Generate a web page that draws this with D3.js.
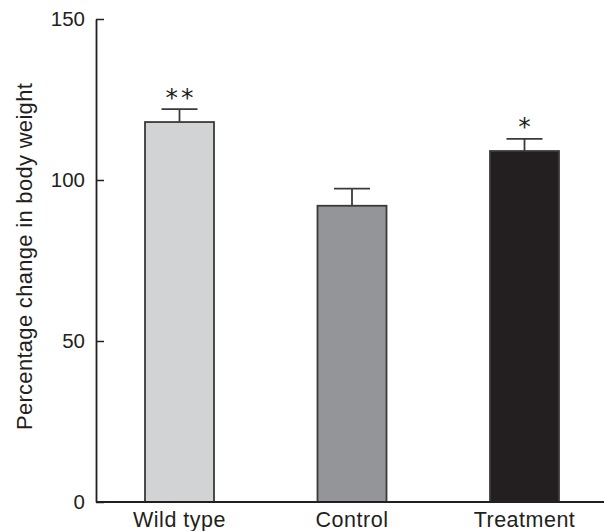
<!DOCTYPE html>
<html>
<head>
<meta charset="utf-8">
<script src="https://cdn.jsdelivr.net/npm/d3@7"></script>
<style>
  html, body { margin: 0; padding: 0; background: #fff; }
  svg { display: block; }
  text { font-family: "Liberation Sans", Arial, Helvetica, sans-serif; fill: #231f20; }
</style>
</head>
<body>
<svg id="chart" width="604" height="531"></svg>
<script>
const categories = ["Wild type", "Control", "Treatment"];
const means = [118, 92, 109];
const errors = [4, 5.3, 3.8];
const significance = ["**", "", "*"];
const yTicks = [0, 50, 100, 150];
const yLabel = "Percentage change in body weight";
const fills = ["#d1d3d4", "#939598", "#231f20"];

const W = 604, H = 531;
const svg = d3.select("#chart");

const x = d3.scaleBand().domain(categories).range([145, 559]).paddingInner(0.6).paddingOuter(0);
const y = d3.scaleLinear().domain([0, 150]).range([502, 19]);

const data = categories.map((c, i) => ({ c, m: means[i], e: errors[i], s: significance[i], f: fills[i] }));

// Bars
svg.append("g").selectAll("rect").data(data).join("rect")
  .attr("x", d => x(d.c))
  .attr("y", d => y(d.m))
  .attr("width", x.bandwidth())
  .attr("height", d => y(0) - y(d.m))
  .attr("fill", d => d.f)
  .attr("stroke", "#3a3a3a")
  .attr("stroke-width", 1.8);

// Error bars
const eb = svg.append("g").attr("stroke", "#3a3a3a").attr("stroke-width", 1.8);
const capW = 18;
data.forEach(d => {
  const cx = x(d.c) + x.bandwidth() / 2;
  eb.append("line").attr("x1", cx).attr("x2", cx).attr("y1", y(d.m)).attr("y2", y(d.m + d.e));
  eb.append("line").attr("x1", cx - capW).attr("x2", cx + capW).attr("y1", y(d.m + d.e)).attr("y2", y(d.m + d.e));
});

// Significance stars
svg.append("g").selectAll("text").data(data.filter(d => d.s)).join("text")
  .attr("x", d => x(d.c) + x.bandwidth() / 2 + 1.5)
  .attr("y", d => y(d.m + d.e) - 19)
  .attr("text-anchor", "middle")
  .attr("dy", "0.62em")
  .style("font-family", "'DejaVu Sans', sans-serif")
  .style("font-size", "25px")
  .style("letter-spacing", "3px")
  .style("fill", "#231f20")
  .text(d => d.s);

// Y axis
const yAxis = d3.axisLeft(y).tickValues(yTicks).tickSize(-8).tickPadding(11).tickSizeOuter(0);
const gy = svg.append("g").attr("transform", "translate(96,0)").call(yAxis);
gy.select(".domain").attr("stroke", "#231f20").attr("stroke-width", 1.8);
gy.selectAll(".tick line").attr("stroke", "#231f20").attr("stroke-width", 1.5);
gy.selectAll(".tick text")
  .style("font-size", "20.5px")
  .style("font-family", "'Liberation Sans', Arial, sans-serif")
  .attr("fill", "#231f20");

// X baseline
svg.append("line")
  .attr("x1", 96).attr("x2", W)
  .attr("y1", y(0)).attr("y2", y(0))
  .attr("stroke", "#231f20").attr("stroke-width", 1.8);

// X labels
const xAxis = d3.axisBottom(x).tickSize(0).tickPadding(10);
const gx = svg.append("g").attr("transform", `translate(0,${y(0)})`).call(xAxis);
gx.select(".domain").remove();
gx.selectAll(".tick text")
  .style("font-size", "21.5px")
  .style("letter-spacing", "0.5px")
  .style("font-family", "'Liberation Sans', Arial, sans-serif")
  .attr("fill", "#231f20");

// Y label
svg.append("text")
  .attr("transform", `translate(32,${(85 + 428) / 2}) rotate(-90)`)
  .attr("text-anchor", "middle")
  .style("font-size", "22px")
  .style("letter-spacing", "0.3px")
  .text(yLabel);
</script>
</body>
</html>
